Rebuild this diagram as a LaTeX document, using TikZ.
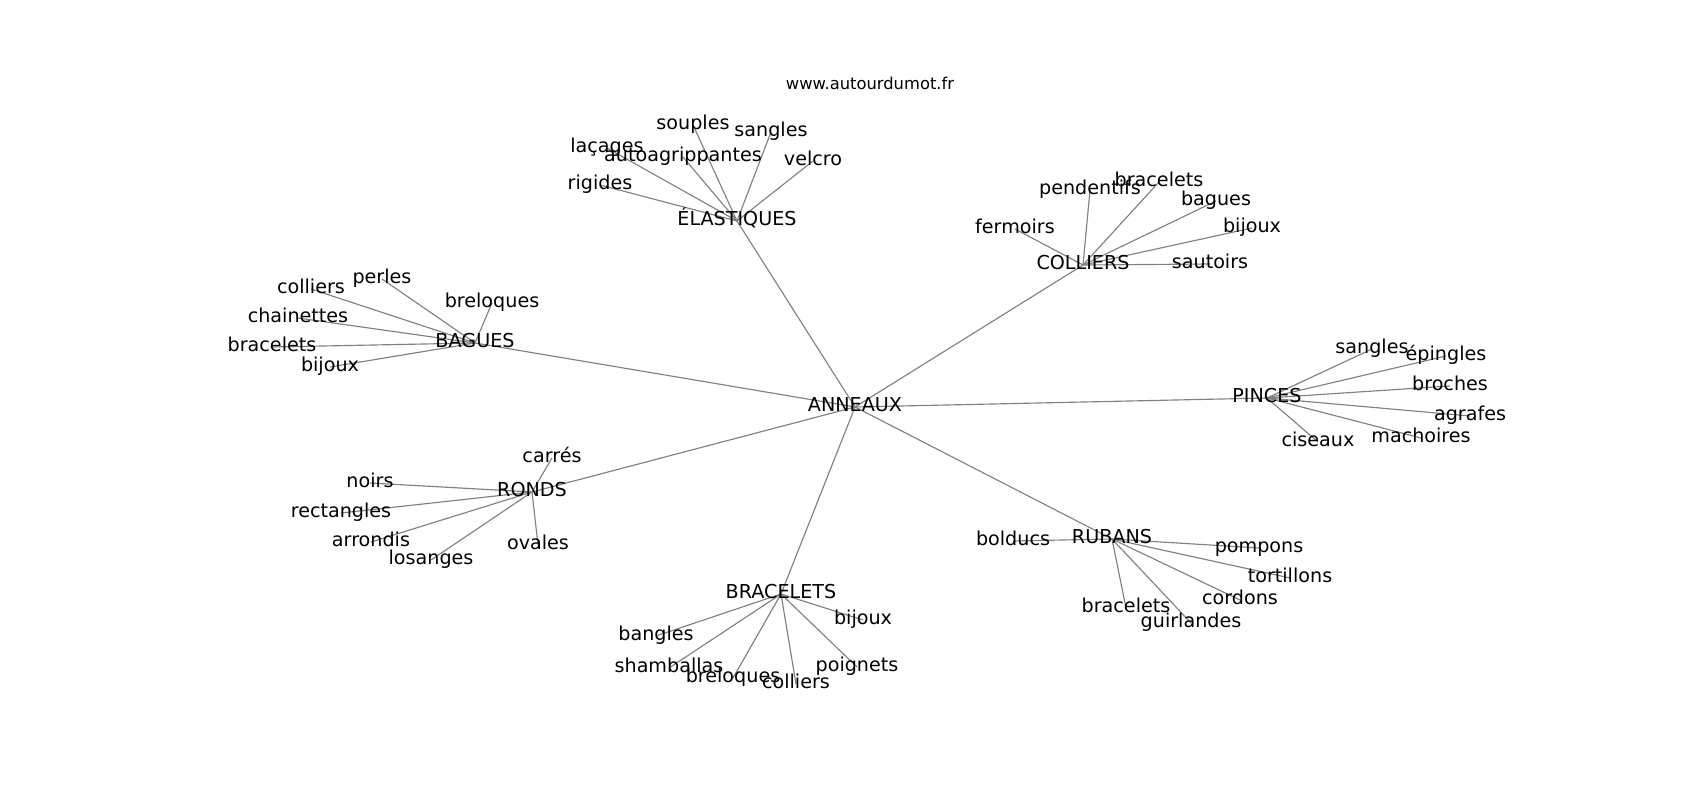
\documentclass[tikz,border=0pt]{standalone}
\usepackage{fontspec}
\setmainfont{DejaVu Sans}
\usetikzlibrary{backgrounds}
\tikzset{
  lbl/.style={font=\fontsize{10.9}{13}\selectfont, inner sep=0pt, text height=0.76em, text depth=0.24em},
  edge/.style={draw=black!50, line width=0.65pt},
}

\begin{document}
\begin{tikzpicture}[x=0.02cm, y=-0.02cm]

% Frame
\useasboundingbox (0,0) rectangle (1700,800);
\node[font=\fontsize{9.3}{11}\selectfont] (site) at (870,83) {www.autourdumot.fr};

% Centre and groups
\node[lbl] (anneaux)    at (855,407)  {ANNEAUX};
\node[lbl] (elastiques) at (737,221)  {ÉLASTIQUES};
\node[lbl] (colliers)   at (1083,265) {COLLIERS};
\node[lbl] (bagues)     at (475,343)  {BAGUES};
\node[lbl] (pinces)     at (1267,398) {PINCES};
\node[lbl] (ronds)      at (532,492)  {RONDS};
\node[lbl] (rubans)     at (1112,539) {RUBANS};
\node[lbl] (bracelets)  at (781,594)  {BRACELETS};

% Elastiques
\node[lbl] (elSouples) at (693,125) {souples};
\node[lbl] (elSangles) at (771,132) {sangles};
\node[lbl] (elLacages) at (607,148) {laçages};
\node[lbl] (elAuto)    at (683,157) {autoagrippantes};
\node[lbl] (elVelcro)  at (813,161) {velcro};
\node[lbl] (elRigides) at (600,185) {rigides};

% Colliers
\node[lbl] (coPendentifs) at (1090,190) {pendentifs};
\node[lbl] (coBracelets)  at (1159,182) {bracelets};
\node[lbl] (coBagues)     at (1216,201) {bagues};
\node[lbl] (coFermoirs)   at (1015,229) {fermoirs};
\node[lbl] (coBijoux)     at (1252,228) {bijoux};
\node[lbl] (coSautoirs)   at (1210,264) {sautoirs};

% Bagues
\node[lbl] (baPerles)     at (382,279) {perles};
\node[lbl] (baColliers)   at (311,289) {colliers};
\node[lbl] (baBreloques)  at (492,303) {breloques};
\node[lbl] (baChainettes) at (298,318) {chainettes};
\node[lbl] (baBracelets)  at (272,347) {bracelets};
\node[lbl] (baBijoux)     at (330,367) {bijoux};

% Pinces
\node[lbl] (piSangles)   at (1372,349) {sangles};
\node[lbl] (piEpingles)  at (1446,356) {épingles};
\node[lbl] (piBroches)   at (1450,386) {broches};
\node[lbl] (piAgrafes)   at (1470,416) {agrafes};
\node[lbl] (piMachoires) at (1421,438) {machoires};
\node[lbl] (piCiseaux)   at (1318,442) {ciseaux};

% Ronds
\node[lbl] (roCarres)     at (552,458) {carrés};
\node[lbl] (roNoirs)      at (370,483) {noirs};
\node[lbl] (roRectangles) at (341,513) {rectangles};
\node[lbl] (roArrondis)   at (371,542) {arrondis};
\node[lbl] (roLosanges)   at (431,560) {losanges};
\node[lbl] (roOvales)     at (538,545) {ovales};

% Rubans
\node[lbl] (ruBolducs)    at (1013,541) {bolducs};
\node[lbl] (ruPompons)    at (1259,548) {pompons};
\node[lbl] (ruTortillons) at (1290,578) {tortillons};
\node[lbl] (ruCordons)    at (1240,600) {cordons};
\node[lbl] (ruGuirlandes) at (1191,623) {guirlandes};
\node[lbl] (ruBracelets)  at (1126,608) {bracelets};

% Bracelets
\node[lbl] (brBangles)    at (656,636) {bangles};
\node[lbl] (brBijoux)     at (863,620) {bijoux};
\node[lbl] (brShamballas) at (669,668) {shamballas};
\node[lbl] (brBreloques)  at (733,678) {breloques};
\node[lbl] (brColliers)   at (796,684) {colliers};
\node[lbl] (brPoignets)   at (857,667) {poignets};

% Edges (behind the labels)
\begin{scope}[on background layer]
\foreach \g in {elastiques,colliers,bagues,pinces,ronds,rubans,bracelets}
  \draw[edge] (anneaux.center) -- (\g.center);
\foreach \g/\l in {elastiques/elSouples, elastiques/elSangles, elastiques/elLacages,
    elastiques/elAuto, elastiques/elVelcro, elastiques/elRigides,
    colliers/coPendentifs, colliers/coBracelets, colliers/coBagues,
    colliers/coFermoirs, colliers/coBijoux, colliers/coSautoirs,
    bagues/baPerles, bagues/baColliers, bagues/baBreloques,
    bagues/baChainettes, bagues/baBracelets, bagues/baBijoux,
    pinces/piSangles, pinces/piEpingles, pinces/piBroches,
    pinces/piAgrafes, pinces/piMachoires, pinces/piCiseaux,
    ronds/roCarres, ronds/roNoirs, ronds/roRectangles,
    ronds/roArrondis, ronds/roLosanges, ronds/roOvales,
    rubans/ruBolducs, rubans/ruPompons, rubans/ruTortillons,
    rubans/ruCordons, rubans/ruGuirlandes, rubans/ruBracelets,
    bracelets/brBangles, bracelets/brBijoux, bracelets/brShamballas,
    bracelets/brBreloques, bracelets/brColliers, bracelets/brPoignets}
  \draw[edge] (\g.center) -- (\l.center);
\end{scope}

\end{tikzpicture}
\end{document}
